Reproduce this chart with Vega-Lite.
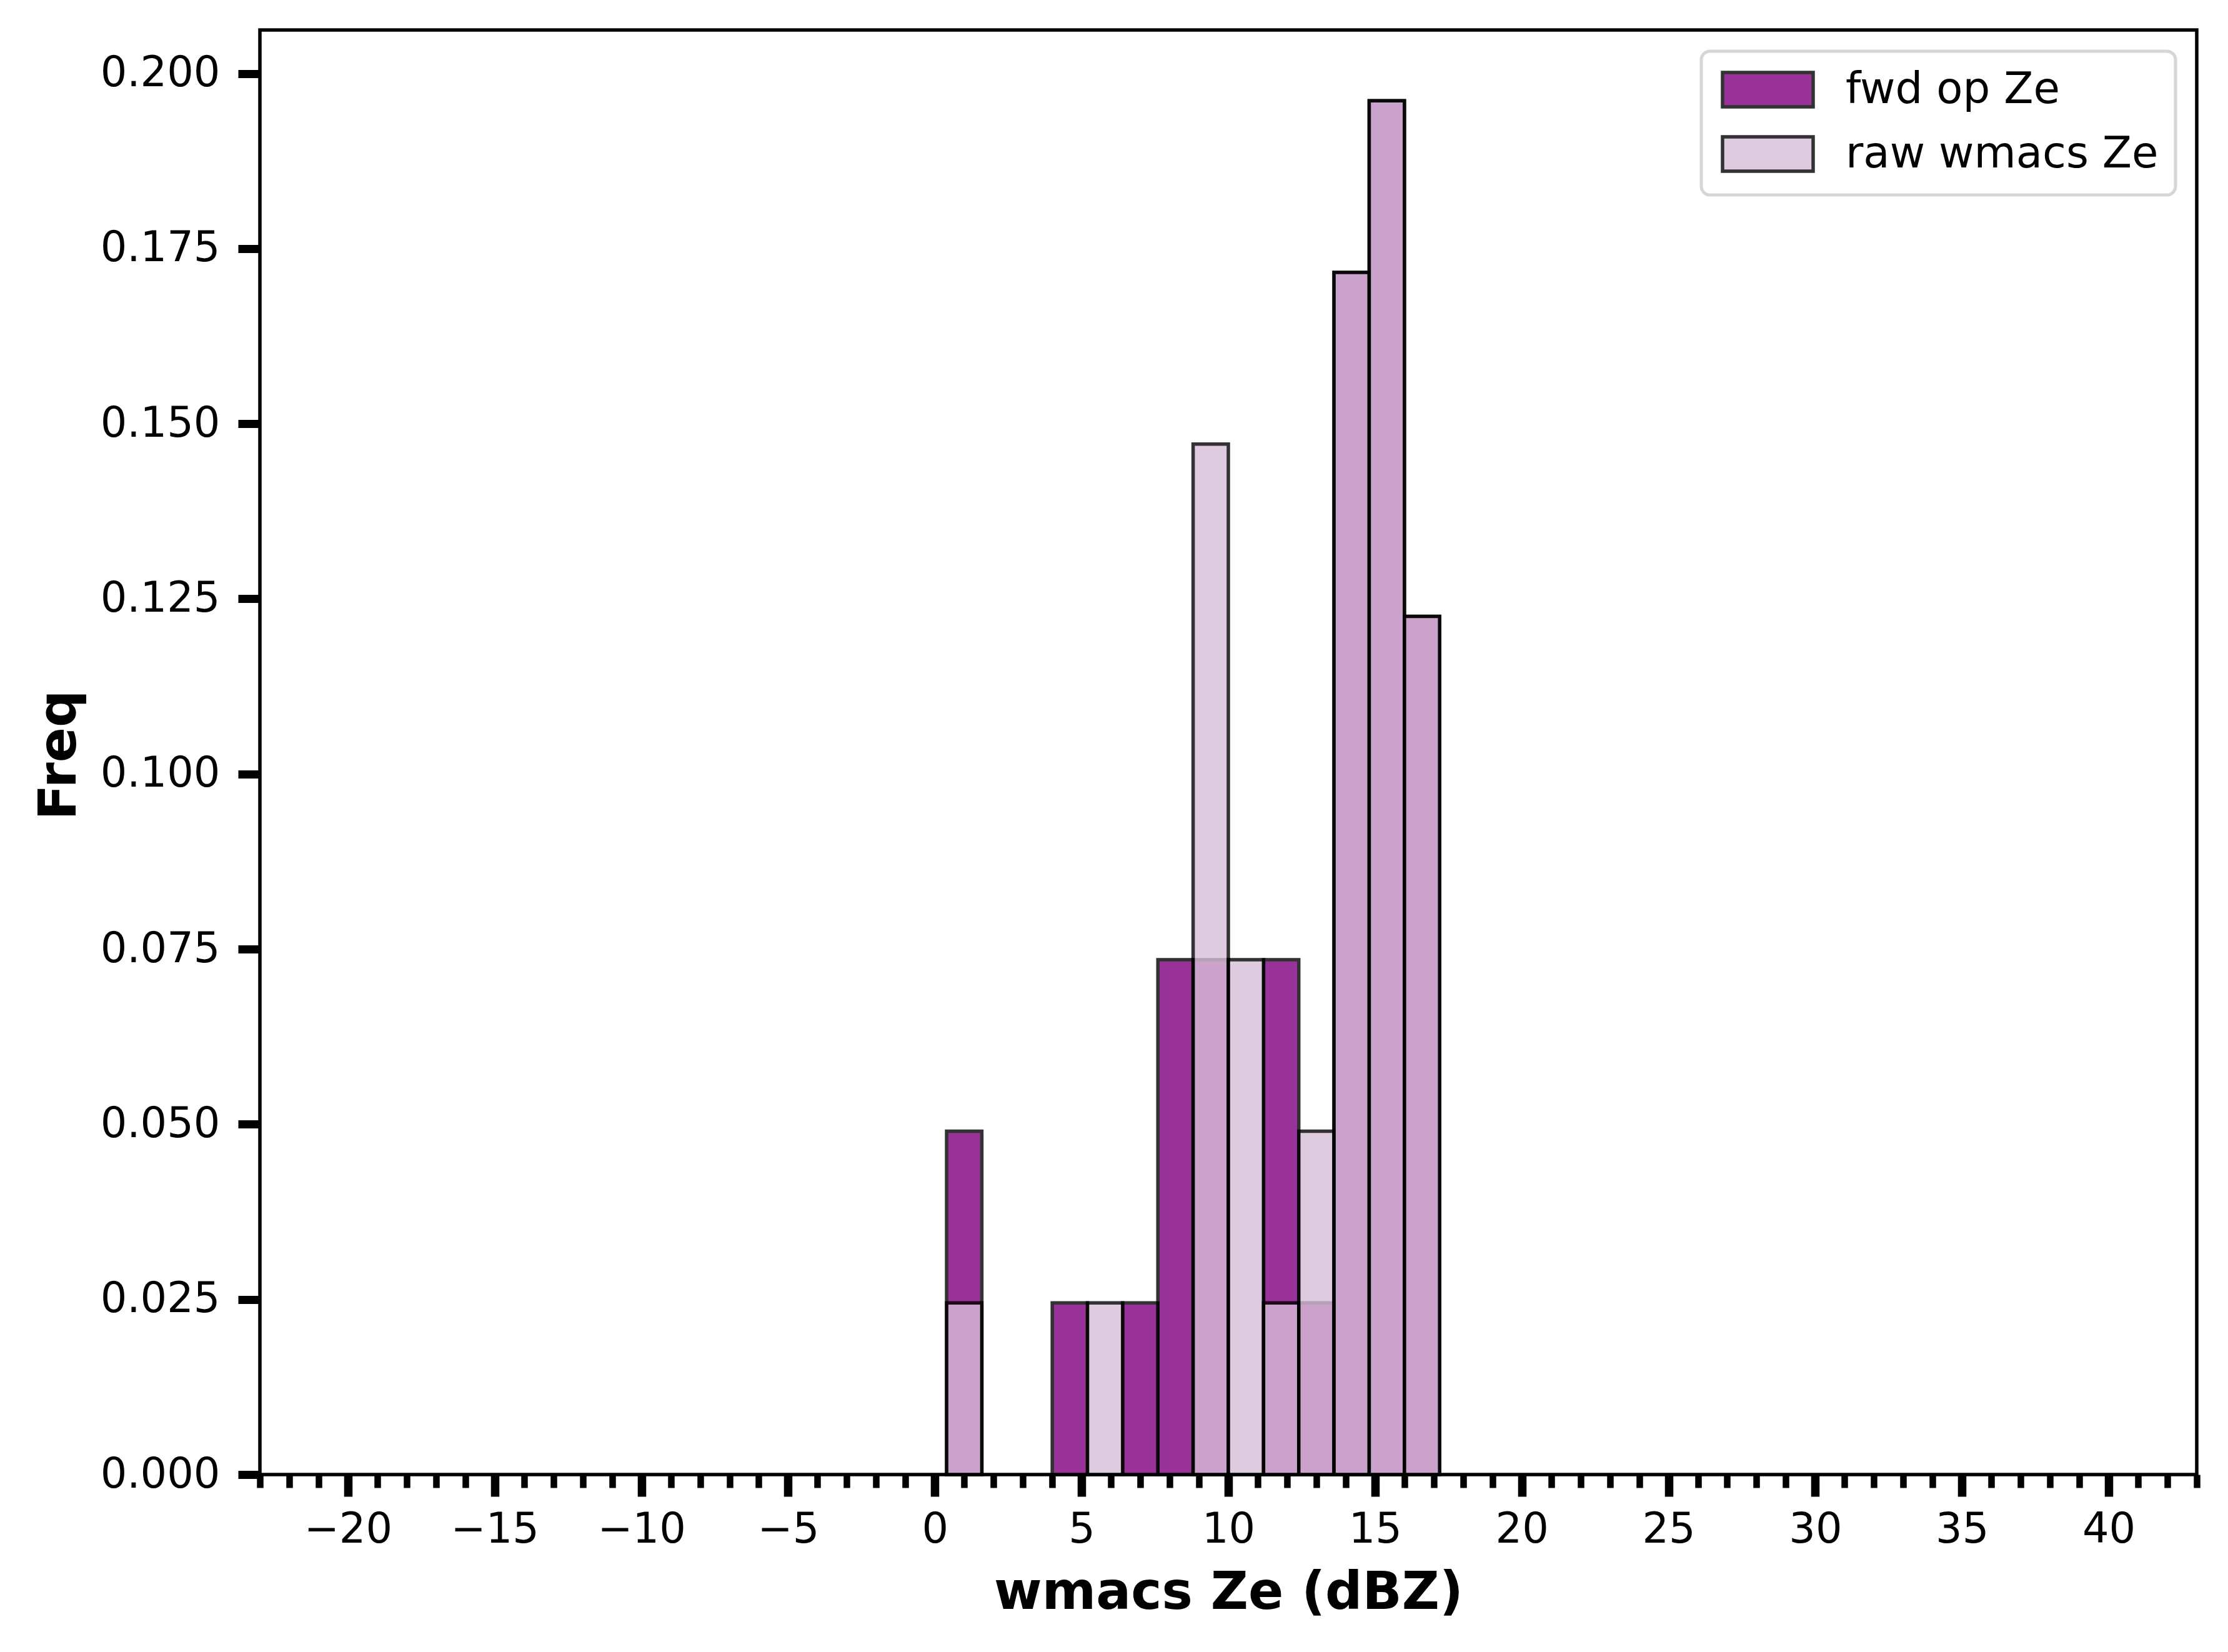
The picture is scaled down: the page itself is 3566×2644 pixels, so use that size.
{
  "$schema": "https://vega.github.io/schema/vega-lite/v6.json",
  "width": 3100,
  "height": 2312,
  "autosize": {"type": "none"},
  "padding": {"left": 416, "top": 48, "right": 50, "bottom": 284},
  "background": "white",
  "config": {
    "font": "DejaVu Sans",
    "view": {"stroke": "black", "strokeWidth": 5.5},
    "axis": {
      "domain": false,
      "grid": false,
      "tickColor": "black",
      "labelColor": "black",
      "titleColor": "black",
      "labelFont": "DejaVu Sans",
      "titleFont": "DejaVu Sans",
      "labelFontSize": 67,
      "labelLimit": 0,
      "titleFontSize": 83,
      "titleFontWeight": "bold"
    },
    "legend": {
      "orient": "top-right",
      "offset": 34,
      "padding": 27,
      "fillColor": "white",
      "strokeColor": "#d6d6d6",
      "strokeWidth": 5,
      "cornerRadius": 14,
      "labelFont": "DejaVu Sans",
      "labelFontSize": 69,
      "labelLimit": 0,
      "labelColor": "black",
      "labelOffset": 135,
      "symbolType": "M-1,-1H4.2727V1H-1Z",
      "symbolSize": 3025,
      "symbolStrokeColor": "black",
      "symbolStrokeWidth": 5.5,
      "symbolOpacity": 0.8,
      "rowPadding": 26
    }
  },
  "data": {
    "values": [
      {"series": "fwd op Ze", "start": 0.4, "end": 1.6, "freq": 0.0490},
      {"series": "fwd op Ze", "start": 4.0, "end": 5.2, "freq": 0.0245},
      {"series": "fwd op Ze", "start": 6.4, "end": 7.6, "freq": 0.0245},
      {"series": "fwd op Ze", "start": 7.6, "end": 8.8, "freq": 0.0735},
      {"series": "fwd op Ze", "start": 8.8, "end": 10.0, "freq": 0.0735},
      {"series": "fwd op Ze", "start": 11.2, "end": 12.4, "freq": 0.0735},
      {"series": "fwd op Ze", "start": 12.4, "end": 13.6, "freq": 0.0245},
      {"series": "fwd op Ze", "start": 13.6, "end": 14.8, "freq": 0.1716},
      {"series": "fwd op Ze", "start": 14.8, "end": 16.0, "freq": 0.1961},
      {"series": "fwd op Ze", "start": 16.0, "end": 17.2, "freq": 0.1225},
      {"series": "raw wmacs Ze", "start": 0.4, "end": 1.6, "freq": 0.0245},
      {"series": "raw wmacs Ze", "start": 5.2, "end": 6.4, "freq": 0.0245},
      {"series": "raw wmacs Ze", "start": 8.8, "end": 10.0, "freq": 0.1471},
      {"series": "raw wmacs Ze", "start": 10.0, "end": 11.2, "freq": 0.0735},
      {"series": "raw wmacs Ze", "start": 11.2, "end": 12.4, "freq": 0.0245},
      {"series": "raw wmacs Ze", "start": 12.4, "end": 13.6, "freq": 0.0490},
      {"series": "raw wmacs Ze", "start": 13.6, "end": 14.8, "freq": 0.1716},
      {"series": "raw wmacs Ze", "start": 14.8, "end": 16.0, "freq": 0.1961},
      {"series": "raw wmacs Ze", "start": 16.0, "end": 17.2, "freq": 0.1225}
    ]
  },
  "layer": [
    {
      "mark": {"type": "bar", "opacity": 0.8, "stroke": "black", "strokeWidth": 5.5},
      "encoding": {
        "x": {
          "field": "start",
          "type": "quantitative",
          "title": "wmacs Ze (dBZ)",
          "scale": {"domain": [-23, 43], "nice": false, "zero": false},
          "axis": {
            "values": [-20, -15, -10, -5, 0, 5, 10, 15, 20, 25, 30, 35, 40],
            "tickSize": 35,
            "tickWidth": 13.5,
            "labelPadding": 20,
            "titlePadding": 27
          }
        },
        "x2": {"field": "end"},
        "y": {
          "field": "freq",
          "type": "quantitative",
          "title": "Freq",
          "stack": null,
          "scale": {"domain": [0, 0.2062], "nice": false},
          "axis": {
            "values": [0, 0.025, 0.05, 0.075, 0.1, 0.125, 0.15, 0.175, 0.2],
            "format": ".3f",
            "tickSize": 35,
            "tickWidth": 13,
            "labelPadding": 29,
            "titleX": -296,
            "titleY": 1160,
            "titleBaseline": "alphabetic"
          }
        },
        "y2": {"datum": 0},
        "color": {
          "field": "series",
          "type": "nominal",
          "title": null,
          "scale": {"domain": ["fwd op Ze", "raw wmacs Ze"], "range": ["purple", "thistle"]}
        }
      }
    },
    {
      "mark": {"type": "rule", "opacity": 0},
      "encoding": {
        "x": {
          "field": "start",
          "type": "quantitative",
          "scale": {"domain": [-23, 43], "nice": false, "zero": false},
          "axis": {
            "orient": "bottom",
            "title": null,
            "labels": false,
            "values": [-23, -22, -21, -20, -19, -18, -17, -16, -15, -14, -13, -12, -11, -10, -9, -8, -7, -6, -5, -4, -3, -2, -1, 0, 1, 2, 3, 4, 5, 6, 7, 8, 9, 10, 11, 12, 13, 14, 15, 16, 17, 18, 19, 20, 21, 22, 23, 24, 25, 26, 27, 28, 29, 30, 31, 32, 33, 34, 35, 36, 37, 38, 39, 40, 41, 42, 43],
            "tickSize": 21,
            "tickWidth": 10.5
          }
        }
      }
    }
  ],
  "resolve": {"scale": {"x": "independent"}, "axis": {"x": "independent"}}
}
